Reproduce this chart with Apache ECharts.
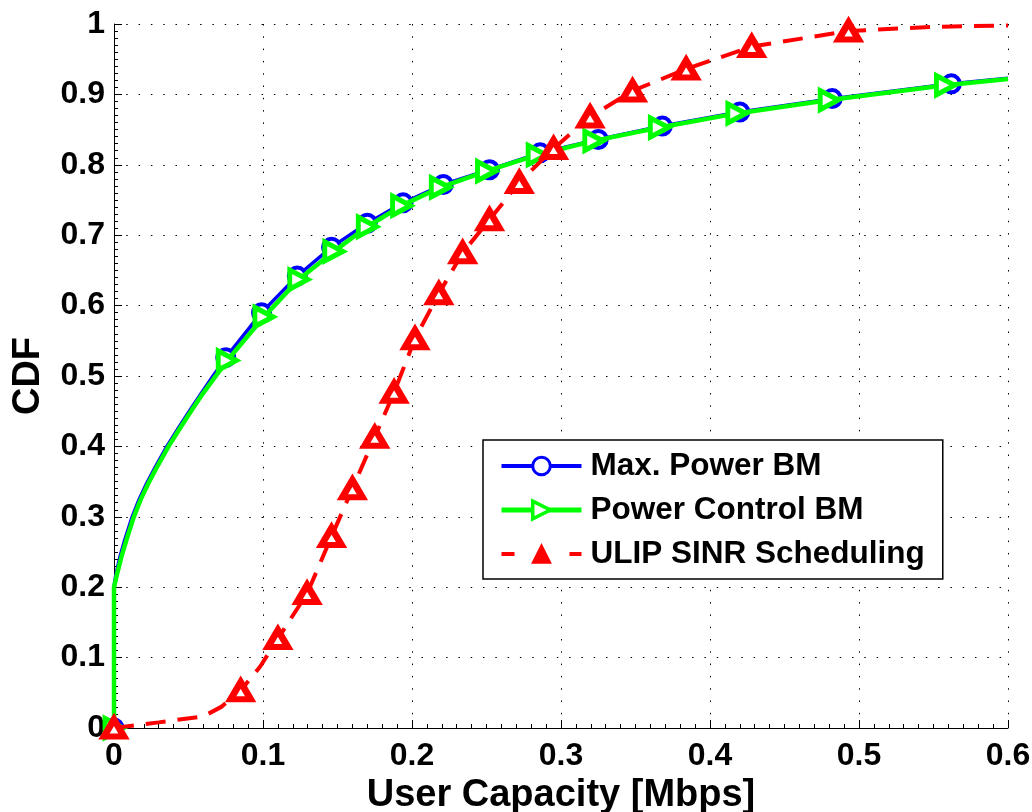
<!DOCTYPE html>
<html>
<head>
<meta charset="utf-8">
<script src="https://cdn.jsdelivr.net/npm/echarts@6/dist/echarts.min.js"></script>
<style>
html,body{margin:0;padding:0;background:#fff;}
#chart{width:1032px;height:812px;}
</style>
</head>
<body>
<div id="chart"></div>
<script>
// ---- data ----
const xTicks = [0, 0.1, 0.2, 0.3, 0.4, 0.5, 0.6];
const yTicks = [0, 0.1, 0.2, 0.3, 0.4, 0.5, 0.6, 0.7, 0.8, 0.9, 1];

const maxPowerX = [0, 0, 0.0005, 0.0015, 0.0041, 0.0072, 0.0122, 0.0167, 0.0218, 0.0278, 0.0355, 0.0438, 0.0512, 0.0585, 0.0665, 0.075, 0.099, 0.123, 0.146, 0.170, 0.194, 0.221, 0.252, 0.286, 0.325, 0.368, 0.420, 0.482, 0.562, 0.6];
const maxPowerY = [0, 0.2, 0.208, 0.22, 0.244, 0.267, 0.3, 0.324, 0.347, 0.371, 0.4, 0.428, 0.452, 0.475, 0.5, 0.526, 0.590, 0.642, 0.683, 0.717, 0.746, 0.772, 0.793, 0.817, 0.836, 0.855, 0.875, 0.894, 0.915, 0.923];
const maxPowerMarkX = [0, 0.075, 0.099, 0.123, 0.146, 0.170, 0.194, 0.221, 0.252, 0.286, 0.325, 0.368, 0.420, 0.482, 0.562];
const maxPowerMarkY = [0, 0.526, 0.590, 0.642, 0.683, 0.717, 0.746, 0.772, 0.793, 0.817, 0.836, 0.855, 0.875, 0.894, 0.915];

const powerCtrlX = [0, 0, 0.0008, 0.0022, 0.0051, 0.0083, 0.0133, 0.0178, 0.0229, 0.0289, 0.0366, 0.0449, 0.0523, 0.0596, 0.0676, 0.076, 0.1006, 0.124, 0.1475, 0.170, 0.193, 0.219, 0.250, 0.284, 0.322, 0.366, 0.418, 0.480, 0.558, 0.6];
const powerCtrlY = [0, 0.2, 0.207, 0.22, 0.244, 0.267, 0.3, 0.324, 0.347, 0.371, 0.4, 0.428, 0.452, 0.475, 0.498, 0.522, 0.584, 0.637, 0.677, 0.712, 0.742, 0.768, 0.791, 0.814, 0.834, 0.853, 0.873, 0.892, 0.913, 0.922];
const powerCtrlMarkX = [0, 0.076, 0.1006, 0.124, 0.1475, 0.170, 0.193, 0.219, 0.250, 0.284, 0.322, 0.366, 0.418, 0.480, 0.558];
const powerCtrlMarkY = [0, 0.522, 0.584, 0.637, 0.677, 0.712, 0.742, 0.768, 0.791, 0.814, 0.834, 0.853, 0.873, 0.892, 0.913];

const ulipX = [0, 0.03, 0.06, 0.072, 0.085, 0.098, 0.110, 0.1296, 0.146, 0.160, 0.175, 0.188, 0.202, 0.218, 0.234, 0.252, 0.272, 0.295, 0.3195, 0.348, 0.384, 0.428, 0.493, 0.55, 0.6];
const ulipY = [0, 0.008, 0.0165, 0.03, 0.053, 0.087, 0.127, 0.191, 0.272, 0.340, 0.413, 0.477, 0.553, 0.617, 0.675, 0.722, 0.775, 0.823, 0.868, 0.905, 0.936, 0.968, 0.990, 0.996, 0.998];
const ulipMarkX = [0, 0.085, 0.110, 0.1296, 0.146, 0.160, 0.175, 0.188, 0.202, 0.218, 0.234, 0.252, 0.272, 0.295, 0.3195, 0.348, 0.384, 0.428, 0.493];
const ulipMarkY = [0, 0.053, 0.127, 0.191, 0.272, 0.340, 0.413, 0.477, 0.553, 0.617, 0.675, 0.722, 0.775, 0.823, 0.868, 0.905, 0.936, 0.968, 0.990];

const names = ['Max. Power BM', 'Power Control BM', 'ULIP SINR Scheduling'];

// ---- build ----
const zip = (xs, ys) => xs.map((x, i) => [x, ys[i]]);
const FONT = "'Liberation Sans', Arial, Helvetica, sans-serif";
const BLUE = '#0000ff', GREEN = '#00ff00', RED = '#ff0000';

const chart = echarts.init(document.getElementById('chart'), null, {renderer: 'canvas'});
const axisCommon = {
  axisLine: {show: true, onZero: false, lineStyle: {color: '#000', width: 1}},
  axisTick: {show: true, inside: true, length: 8, lineStyle: {color: '#000', width: 1}},
  minorTick: {show: true, splitNumber: 10, length: 4, lineStyle: {color: '#000', width: 1}},
  splitLine: {show: true, lineStyle: {color: '#000', width: 1, type: [1.5, 10.8]}},
  axisLabel: {color: '#000', fontFamily: FONT, fontWeight: 'bold', fontSize: 32},
  nameTextStyle: {color: '#000', fontFamily: FONT, fontWeight: 'bold', fontSize: 38}
};
const fmt = v => String(+v.toFixed(1));

chart.setOption({
  animation: false,
  backgroundColor: '#fff',
  grid: {left: 114, right: 24, top: 24, bottom: 84, containLabel: false, outerBoundsMode: 'none'},
  xAxis: Object.assign({}, axisCommon, {
    type: 'value', min: xTicks[0], max: xTicks[xTicks.length - 1], interval: 0.1,
    name: 'User Capacity [Mbps]', nameLocation: 'middle', nameGap: 46,
    axisLabel: Object.assign({}, axisCommon.axisLabel, {margin: 12, formatter: fmt})
  }),
  yAxis: Object.assign({}, axisCommon, {
    type: 'value', min: yTicks[0], max: yTicks[yTicks.length - 1], interval: 0.1,
    name: 'CDF', nameLocation: 'middle', nameGap: 66,
    axisLabel: Object.assign({}, axisCommon.axisLabel, {margin: 9, formatter: fmt})
  }),
  legend: {
    data: [
      {name: names[0], itemStyle: {color: '#fff', borderColor: BLUE, borderWidth: 3}, lineStyle: {width: 4}},
      {name: names[1], itemStyle: {color: '#fff', borderColor: GREEN, borderWidth: 3.5}, lineStyle: {width: 5}},
      {name: names[2], itemStyle: {color: RED, borderColor: RED, borderWidth: 2}, lineStyle: {width: 4, type: [13, 55]}}
    ],
    orient: 'vertical',
    left: 483, top: 440,
    padding: [10, 18, 9, 16],
    itemGap: 12,
    itemWidth: 80, itemHeight: 22,
    backgroundColor: '#fff',
    borderColor: '#000', borderWidth: 1.5,
    textStyle: {color: '#000', fontFamily: FONT, fontWeight: 'bold', fontSize: 31.5, padding: [0, 0, 0, 4]}
  },
  series: [
    {
      name: names[0], type: 'line', data: zip(maxPowerX, maxPowerY),
      showSymbol: false, symbol: 'circle', symbolSize: 14,
      lineStyle: {color: BLUE, width: 3.5}, itemStyle: {color: BLUE},
      z: 2
    },
    {
      name: names[0], type: 'scatter', data: zip(maxPowerMarkX, maxPowerMarkY),
      symbol: 'circle', symbolSize: 17,
      itemStyle: {color: '#fff', borderColor: BLUE, borderWidth: 4, opacity: 1},
      z: 2
    },
    {
      name: names[1], type: 'line', data: zip(powerCtrlX, powerCtrlY),
      showSymbol: false, symbol: 'triangle', symbolRotate: -90, symbolSize: 18,
      lineStyle: {color: GREEN, width: 4.5}, itemStyle: {color: GREEN},
      z: 3
    },
    {
      name: names[1], type: 'scatter', data: zip(powerCtrlMarkX, powerCtrlMarkY),
      symbol: 'triangle', symbolRotate: -90, symbolSize: [19, 18],
      itemStyle: {color: '#fff', borderColor: GREEN, borderWidth: 5, opacity: 1},
      z: 3
    },
    {
      name: names[2], type: 'line', data: zip(ulipX, ulipY),
      showSymbol: false, symbol: 'triangle', symbolSize: 20,
      lineStyle: {color: RED, width: 4, type: [20, 12]}, itemStyle: {color: RED},
      z: 4
    },
    {
      name: names[2], type: 'scatter', data: zip(ulipMarkX, ulipMarkY),
      symbol: 'triangle', symbolSize: [20, 17],
      itemStyle: {color: '#fff', borderColor: RED, borderWidth: 6.5, opacity: 1},
      z: 4
    }
  ]
});
</script>
</body>
</html>
